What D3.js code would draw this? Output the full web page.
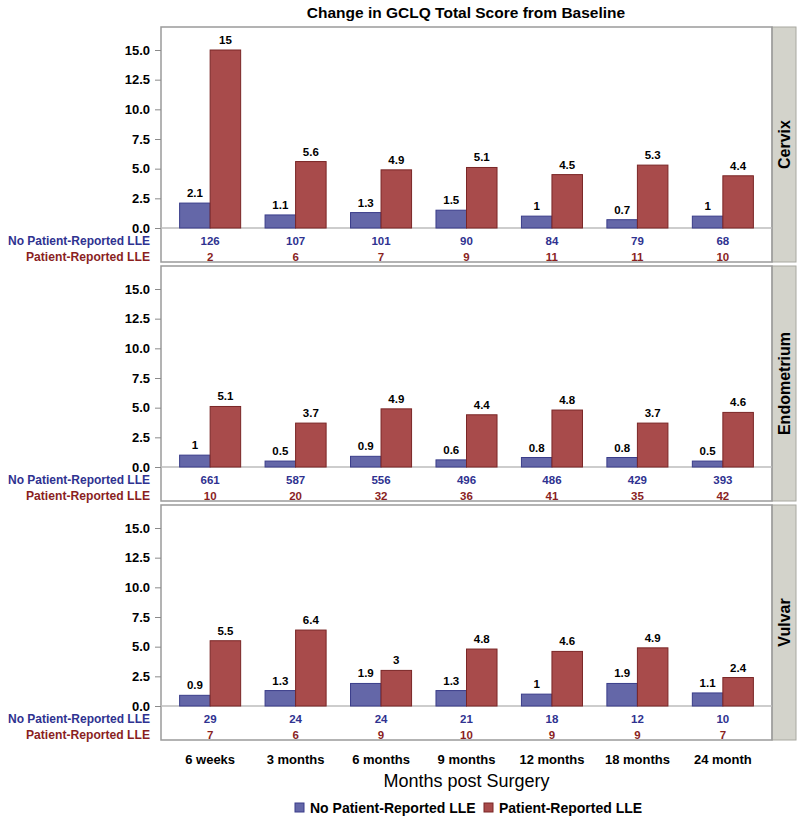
<!DOCTYPE html>
<html><head><meta charset="utf-8">
<script src="https://cdn.jsdelivr.net/npm/d3@7"></script>
<style>body{margin:0;background:#fff}svg{display:block;font-family:"Liberation Sans",Arial,sans-serif}</style>
</head><body><svg id="c" width="800" height="820"></svg>
<script>
const categories = ["6 weeks","3 months","6 months","9 months","12 months","18 months","24 month"];
const panels = ["Cervix","Endometrium","Vulvar"];
const seriesNames = ["No Patient-Reported LLE","Patient-Reported LLE"];
const cervixNo = [2.1,1.1,1.3,1.5,1,0.7,1];
const cervixYes = [15,5.6,4.9,5.1,4.5,5.3,4.4];
const cervixNNo = [126,107,101,90,84,79,68];
const cervixNYes = [2,6,7,9,11,11,10];
const endoNo = [1,0.5,0.9,0.6,0.8,0.8,0.5];
const endoYes = [5.1,3.7,4.9,4.4,4.8,3.7,4.6];
const endoNNo = [661,587,556,496,486,429,393];
const endoNYes = [10,20,32,36,41,35,42];
const vulvarNo = [0.9,1.3,1.9,1.3,1,1.9,1.1];
const vulvarYes = [5.5,6.4,3,4.8,4.6,4.9,2.4];
const vulvarNNo = [29,24,24,21,18,12,10];
const vulvarNYes = [7,6,9,10,9,9,7];
const yTicks = [0,2.5,5,7.5,10,12.5,15];

const panelData = [
  {name:panels[0], vals:[cervixNo,cervixYes], ns:[cervixNNo,cervixNYes]},
  {name:panels[1], vals:[endoNo,endoYes], ns:[endoNNo,endoNYes]},
  {name:panels[2], vals:[vulvarNo,vulvarYes], ns:[vulvarNNo,vulvarNYes]}
];
const fills = ["#6467a8","#a84b4b"];
const strokes = ["#3a3d8a","#7a2626"];
const textCols = ["#2f3290","#8a1f1f"];
const rowLabelLen = [142,124];

const svg = d3.select("#c");
const L = 161, R = 772, stripW = 24;
const x = d3.scaleBand().domain(categories).range([L,R]).paddingInner(0).paddingOuter(0.075);
const xs = d3.scaleBand().domain([0,1]).range([0,x.bandwidth()]).paddingInner(0).paddingOuter(0.4);

svg.append("text").attr("x",466).attr("y",18).attr("text-anchor","middle")
  .attr("font-weight","bold").attr("font-size",15.5).text("Change in GCLQ Total Score from Baseline");

const top0 = 27, pStep = 239, boxH = 235;
panelData.forEach((p,pi)=>{
  const top = top0 + pi*pStep;
  const g = svg.append("g");
  const y = d3.scaleLinear().domain([0,15]).range([top+201, top+23]);
  // strip
  g.append("rect").attr("x",R).attr("y",top).attr("width",stripW).attr("height",boxH)
    .attr("fill","#d3d3cb").attr("stroke","#a8a8a0").attr("stroke-width",1);
  g.append("text").attr("transform",`translate(${R+stripW/2+6},${top+boxH/2}) rotate(-90)`)
    .attr("text-anchor","middle").attr("font-weight","bold").attr("font-size",16).text(p.name);
  // frame
  g.append("rect").attr("x",L).attr("y",top).attr("width",R-L).attr("height",boxH)
    .attr("fill","none").attr("stroke","#9a9a9a").attr("stroke-width",1.5);
  // y axis
  const ax = g.append("g").attr("transform",`translate(${L},0)`)
    .call(d3.axisLeft(y).tickValues(yTicks).tickFormat(d3.format(".1f")).tickSize(6).tickPadding(5));
  ax.select(".domain").remove();
  ax.selectAll("line").attr("stroke","#8a8a8a");
  ax.selectAll("text").attr("font-weight","bold").attr("font-size",13).attr("fill","#000")
    .attr("font-family","Liberation Sans, Arial, sans-serif");
  // baseline
  g.append("line").attr("x1",L).attr("x2",R).attr("y1",y(0)).attr("y2",y(0))
    .attr("stroke","#bdbdbd").attr("stroke-width",1.5);
  // bars
  p.vals.forEach((vals,si)=>{
    categories.forEach((c,ci)=>{
      const v = vals[ci];
      const bx = x(c)+xs(si);
      g.append("rect").attr("x",bx).attr("y",y(v)).attr("width",xs.bandwidth()).attr("height",y(0)-y(v))
        .attr("fill",fills[si]).attr("stroke",strokes[si]).attr("stroke-width",1);
      g.append("text").attr("x",bx+xs.bandwidth()/2).attr("y",y(v)-6).attr("text-anchor","middle")
        .attr("font-weight","bold").attr("font-size",11.5).text(v);
    });
  });
  // count rows
  p.ns.forEach((ns,si)=>{
    const ty = top + 213 + si*16 + 5;
    g.append("text").attr("x",150-rowLabelLen[si]).attr("y",ty)
      .attr("textLength",rowLabelLen[si]).attr("lengthAdjust","spacingAndGlyphs")
      .attr("font-weight","bold").attr("font-size",12.5).attr("fill",textCols[si]).text(seriesNames[si]);
    categories.forEach((c,ci)=>{
      g.append("text").attr("x",x(c)+x.bandwidth()/2).attr("y",ty).attr("text-anchor","middle")
        .attr("font-weight","bold").attr("font-size",11.5).attr("fill",textCols[si]).text(ns[ci]);
    });
  });
});

// x axis labels
const bottom = top0 + 2*pStep + boxH;
const xa = svg.append("g").attr("transform",`translate(0,${bottom})`)
  .call(d3.axisBottom(x).tickSize(0).tickPadding(15));
xa.select(".domain").remove();
xa.selectAll("text").attr("font-weight","bold").attr("font-size",13).attr("fill","#000")
  .attr("font-family","Liberation Sans, Arial, sans-serif");
svg.append("text").attr("x",(L+R)/2).attr("y",787).attr("text-anchor","middle")
  .attr("font-size",18).text("Months post Surgery");

// legend
const leg = [{x:295,t:seriesNames[0]},{x:484,t:seriesNames[1]}];
leg.forEach((d,i)=>{
  svg.append("rect").attr("x",d.x).attr("y",803).attr("width",9).attr("height",9)
    .attr("fill",fills[i]).attr("stroke",strokes[i]);
  svg.append("text").attr("x",d.x+15).attr("y",813).attr("font-weight","bold").attr("font-size",14).text(d.t);
});
</script></body></html>
